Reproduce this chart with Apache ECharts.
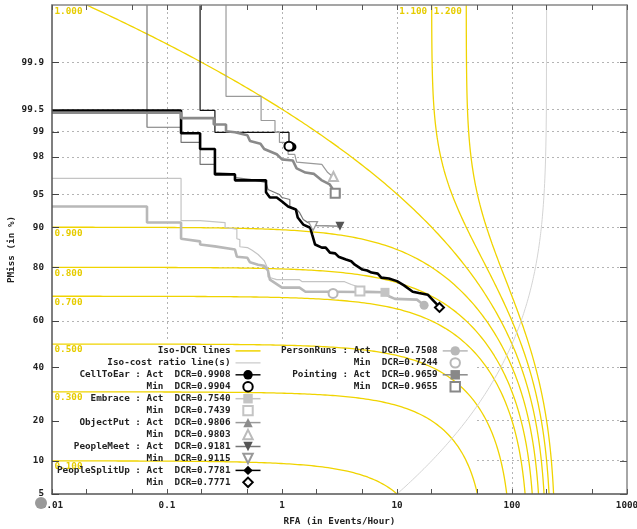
<!DOCTYPE html>
<html><head><meta charset="utf-8">
<script src="https://cdn.jsdelivr.net/npm/echarts@6/dist/echarts.min.js"></script>
<style>html,body{margin:0;padding:0;background:#fff}#c{width:637px;height:529px}</style>
</head><body><div id="c"></div>
<script>
// ---------- axis / reference data ----------
const yTickValues = [5, 10, 20, 40, 60, 80, 90, 95, 98, 99, 99.5, 99.9];
const yTickLabels = ['5', '10', '20', '40', '60', '80', '90', '95', '98', '99', '99.5', '99.9'];
const xGridValues = [0.1, 1, 10, 100];
const xTickValues = [0.01, 0.02, 0.05, 0.1, 0.2, 0.5, 1, 2, 5, 10, 20, 50, 100, 200, 500, 1000];
const isoDcrLevels = [0.1, 0.3, 0.5, 0.7, 0.8, 0.9, 1.0, 1.1, 1.2];
const isoDcrLabels = ['0.100', '0.300', '0.500', '0.700', '0.800', '0.900', '1.000', '1.100', '1.200'];
const beta = 0.005;           // DCR = PMiss + beta * RFA
const pMissMin = 5, pMissMax = 99.99;
const rfaMin = 0.01, rfaMax = 1000;

// ---------- DET curves: [RFA, PMiss %] ----------
const cellToEarCurve = [[0.194,99.99],[0.194,99.48],[0.261,99.48],[0.261,98.99],[1.15,98.99],[1.15,98.5]];
const cellToEarAct = [1.22, 98.47];
const cellToEarMin = [1.15, 98.5];

const embraceCurve = [[0.01,96.54],[0.1325,96.54],[0.1325,91.2],[0.194,91.2],[0.194,90.87],[0.32,90.87],[0.32,89.94],[0.405,89.6],[0.405,87.6],[0.43,87.4],[0.43,85.7],[0.5,85.5],[0.55,84.8],[0.62,83.7],[0.7,82.0],[0.74,80.2],[0.755,78.0],[0.755,76.9],[0.9,76.0],[1.42,76.0],[1.5,75.3],[3.5,75.3],[4.0,74.3],[4.6,73.5],[4.76,72.0],[7.5,71.7]];
const embraceAct = [7.86, 71.47];
const embraceMin = [4.76, 72.0];

const objectPutCurve = [[0.326,99.99],[0.326,99.67],[0.658,99.67],[0.658,99.29],[0.869,99.29],[0.869,98.99],[0.95,98.99],[0.95,98.65],[1.05,98.65],[1.05,98.4],[1.13,98.4],[1.13,98.13],[1.29,98.13],[1.34,97.7],[2.22,97.56],[2.5,97.0],[2.75,96.7]];
const objectPutAct = [2.83, 96.65];
const objectPutMin = [2.8, 96.7];

const peopleMeetCurve = [[0.067,99.99],[0.067,99.13],[0.1325,99.13],[0.1325,98.65],[0.194,98.65],[0.194,97.56],[0.261,97.56],[0.261,97.0],[0.39,96.9],[0.39,96.6],[0.527,96.45],[0.726,96.19],[0.755,95.5],[0.95,94.96],[1.0,94.6],[1.17,94.36],[1.17,93.44],[1.34,93.0],[1.42,92.55],[1.53,91.4],[1.67,90.9],[1.86,90.5],[2.0,90.3],[3.0,90.2]];
const peopleMeetAct = [3.19, 90.2];
const peopleMeetMin = [1.86, 90.22];

const peopleSplitUpCurve = [[0.01,99.48],[0.1325,99.48],[0.1325,98.96],[0.194,98.96],[0.194,98.38],[0.261,98.38],[0.261,96.86],[0.39,96.86],[0.39,96.37],[0.726,96.37],[0.726,95.2],[0.785,94.6],[0.9,94.6],[1.0,94.1],[1.13,93.44],[1.32,93.0],[1.37,91.75],[1.53,90.5],[1.76,89.9],[1.83,88.5],[1.94,86.25],[2.22,85.5],[2.4,85.5],[2.61,84.2],[2.9,84.0],[3.1,83.1],[3.6,82.3],[4.0,81.8],[4.3,80.8],[5.0,79.3],[5.5,79.0],[6.0,78.35],[6.8,78.0],[7.3,76.7],[8.5,76.4],[10,75.5],[11.5,74.0],[13.7,71.7],[15.5,71.2],[18.5,70.6],[21,68.0]];
const peopleSplitUpAct = [23.7, 65.5];
const peopleSplitUpMin = [23.4, 65.6];

const personRunsCurve = [[0.01,93.44],[0.067,93.44],[0.067,90.87],[0.1325,90.87],[0.1325,87.6],[0.194,87.0],[0.194,86.25],[0.261,85.8],[0.261,85.5],[0.39,85.0],[0.405,83.1],[0.5,82.8],[0.527,81.5],[0.62,80.8],[0.7,80.5],[0.755,79.0],[0.785,76.0],[1.0,73.2],[1.42,73.2],[1.6,71.7],[2.78,71.7],[7.5,71.5],[8.5,70.0],[9.6,69.0],[14.9,68.7]];
const personRunsAct = [17.2, 66.5];
const personRunsMin = [2.78, 71.05];

const pointingCurve = [[0.01,99.44],[0.1325,99.44],[0.1325,99.34],[0.255,99.34],[0.255,99.2],[0.326,99.2],[0.326,99.02],[0.39,98.99],[0.5,98.9],[0.527,98.7],[0.65,98.6],[0.7,98.38],[0.9,98.13],[1.0,97.86],[1.24,97.8],[1.34,97.3],[1.6,97.0],[1.9,96.9],[2.2,96.4],[2.6,96.0],[2.85,95.3]];
const pointingAct = [2.95, 95.12];
const pointingMin = [2.9, 95.1];

const eventNames = ['CellToEar','Embrace','ObjectPut','PeopleMeet','PeopleSplitUp','PersonRuns','Pointing'];
const actDcr = [0.9908, 0.7540, 0.9806, 0.9181, 0.7781, 0.7508, 0.9659];
const minDcr = [0.9904, 0.7439, 0.9803, 0.9115, 0.7771, 0.7244, 0.9655];

// ---------- helpers ----------
function probit(p){
  const a=[-3.969683028665376e+01,2.209460984245205e+02,-2.759285104469687e+02,1.383577518672690e+02,-3.066479806614716e+01,2.506628277459239e+00];
  const b=[-5.447609879822406e+01,1.615858368580409e+02,-1.556989798598866e+02,6.680131188771972e+01,-1.328068155288572e+01];
  const c=[-7.784894002430293e-03,-3.223964580411365e-01,-2.400758277161838e+00,-2.549732539343734e+00,4.374664141464968e+00,2.938163982698783e+00];
  const d=[7.784695709041462e-03,3.224671290700398e-01,2.445134137142996e+00,3.754408661907416e+00];
  const pl=0.02425, ph=1-pl; let q,r;
  if(p<pl){q=Math.sqrt(-2*Math.log(p));return (((((c[0]*q+c[1])*q+c[2])*q+c[3])*q+c[4])*q+c[5])/((((d[0]*q+d[1])*q+d[2])*q+d[3])*q+1);}
  if(p>ph){q=Math.sqrt(-2*Math.log(1-p));return -(((((c[0]*q+c[1])*q+c[2])*q+c[3])*q+c[4])*q+c[5])/((((d[0]*q+d[1])*q+d[2])*q+d[3])*q+1);}
  q=p-0.5;r=q*q;return (((((a[0]*r+a[1])*r+a[2])*r+a[3])*r+a[4])*r+a[5])*q/(((((b[0]*r+b[1])*r+b[2])*r+b[3])*r+b[4])*r+1);
}
const zOf = pct => probit(pct / 100);
const zMin = zOf(pMissMin), zMax = zOf(pMissMax);
const yTickZ = yTickValues.map(zOf);

const FONT = "'DejaVu Sans Mono', monospace";
const txt = {fontFamily: FONT, fontWeight: 'bold', fontSize: 9.3, color: '#222'};
const YEL = '#f0d400';

function isoCurve(level){
  const rStart = Math.max(rfaMin, (level - pMissMax/100) / beta);
  const rEnd = (level - pMissMin/100) / beta;
  const n = 1500, pts = [];
  for (let i = 0; i <= n; i++){
    const r = rStart * Math.pow(rEnd / rStart, i / n);
    const p = Math.min(level - beta * r, pMissMax/100);
    if (p >= pMissMin/100 - 1e-9) pts.push([r, probit(Math.max(p, pMissMin/100))]);
  }
  return pts;
}
function isoCostCurve(){
  const rStart = (pMissMin/100) / beta, rEnd = (pMissMax/100) / beta;
  const n = 600, pts = [];
  for (let i = 0; i <= n; i++){
    const r = rStart * Math.pow(rEnd / rStart, i / n);
    pts.push([r, probit(beta * r)]);
  }
  return pts;
}

// ---------- styles ----------
const DOWN = 'path://M0,0L10,0L5,9Z';
const evStyle = [
  {curve: cellToEarCurve, act: cellToEarAct, min: cellToEarMin, color:'#111', width:1.2, mark:'#000', sym:'circle', minStyle:{symbol:'emptyCircle', color:'#000'}},
  {curve: embraceCurve, act: embraceAct, min: embraceMin, color:'#c4c4c4', width:1.2, mark:'#c4c4c4', sym:'rect', minStyle:{symbol:'emptyRect', color:'#c4c4c4'}},
  {curve: objectPutCurve, act: objectPutAct, min: objectPutMin, color:'#9a9a9a', width:1.2, mark:'#8c8c8c', sym:'triangle', minStyle:{symbol:'emptyTriangle', color:'#bbb'}},
  {curve: peopleMeetCurve, act: peopleMeetAct, min: peopleMeetMin, color:'#777', width:1.2, mark:'#555', sym:DOWN, minStyle:{symbol:DOWN, color:'#fff', border:'#999'}},
  {curve: peopleSplitUpCurve, act: peopleSplitUpAct, min: peopleSplitUpMin, color:'#000', width:2.6, mark:'#000', sym:'diamond', minStyle:{symbol:'emptyDiamond', color:'#000'}},
  {curve: personRunsCurve, act: personRunsAct, min: personRunsMin, color:'#b8b8b8', width:2.6, mark:'#b8b8b8', sym:'circle', minStyle:{symbol:'emptyCircle', color:'#b8b8b8'}},
  {curve: pointingCurve, act: pointingAct, min: pointingMin, color:'#8a8a8a', width:2.6, mark:'#888', sym:'rect', minStyle:{symbol:'emptyRect', color:'#888'}}
];

const series = [];
const hideSym = {itemStyle:{opacity:0}};
const hideLine = {lineStyle:{opacity:0, width:0}};
const leftLegend = [Object.assign({name:'Iso-DCR lines'}, hideSym), Object.assign({name:'Iso-cost ratio line(s)'}, hideSym)];
const rightLegend = [];

// grid lines (dotted)
series.push({
  type:'line', name:'__grid', data:[], z:1, silent:true, animation:false,
  markLine:{z:1, silent:true, animation:false, symbol:['none','none'], label:{show:false},
    lineStyle:{color:'#b4b4b4', type:[2,3], width:1},
    data: yTickZ.slice(1).map(z => ({yAxis:z})).concat(xGridValues.map(x => ({xAxis:x})))}
});

// iso-DCR lines
isoDcrLevels.forEach((lv, i) => {
  let coord, lab;
  if (lv < 1) { coord = [rfaMin, probit(lv - beta*rfaMin)]; lab = {position:'right', distance:2, offset:[0,6]}; }
  else if (lv === 1) { coord = [rfaMin, zMax]; lab = {position:'right', distance:2, offset:[0,7]}; }
  else { coord = [(lv - pMissMax/100)/beta, zMax]; lab = {position:'left', distance:4, offset:[0,7]}; }
  series.push({
    type:'line', name:'Iso-DCR lines', data: isoCurve(lv), symbol:'none', z:3, silent:true, animation:false,
    lineStyle:{color:YEL, width:1.3}, itemStyle:{color:YEL},
    markPoint:{z:3, silent:true, animation:false, symbol:'circle', symbolSize:1, itemStyle:{color:'rgba(0,0,0,0)'},
      data:[{coord: coord, label:Object.assign({show:true, formatter: isoDcrLabels[i], fontFamily:FONT, fontWeight:'bold', fontSize:9.3, color:'#e6cc00'}, lab)}]}
  });
});
series.push({
  type:'line', name:'Iso-cost ratio line(s)', data: isoCostCurve(), symbol:'none', z:3, silent:true, animation:false,
  lineStyle:{color:'#d4d4d4', width:1}, itemStyle:{color:'#d4d4d4'}
});

// events
eventNames.forEach((nm, i) => {
  const s = evStyle[i];
  const actName = nm + ' : Act  DCR=' + actDcr[i].toFixed(4);
  const minName = 'Min  DCR=' + minDcr[i].toFixed(4);
  const data = s.curve.map(p => ({value:[p[0], zOf(p[1])], symbol:'none'}));
  data.push({value:[s.act[0], zOf(s.act[1])]});
  series.push({
    type:'line', name: actName, data: data, z:4, silent:true, animation:false,
    symbol: s.sym, symbolSize: 9, showSymbol:true, showAllSymbol:true,
    lineStyle:{color:s.color, width:s.width}, itemStyle:{color:s.mark}
  });
  const ms = s.minStyle;
  series.push({
    type:'line', name: minName, data:[[s.min[0], zOf(s.min[1])]], z:5, silent:true, animation:false,
    symbol: ms.symbol, symbolSize: 9, showSymbol:true, showAllSymbol:true,
    lineStyle:{width:0, color: ms.border || ms.color},
    itemStyle: ms.border ? {color: ms.color, borderColor: ms.border, borderWidth: 1.3} : {color: ms.color, borderWidth: 1.6}
  });
  const tgt = (nm === 'PersonRuns' || nm === 'Pointing') ? rightLegend : leftLegend;
  tgt.push({name: actName}, Object.assign({name: minName}, hideLine));
});

const legendBase = {
  orient:'vertical', align:'right', itemGap:0.15, itemWidth:25, itemHeight:11.8,
  selectedMode:false, z:6, lineStyle:{width:1.5},
  textStyle:Object.assign({}, txt, {lineHeight:11.8}), padding:0
};

const option = {
  animation:false,
  backgroundColor:'#fff',
  grid:{left:52, right:10, top:5, bottom:35, outerBoundsMode:'none', containLabel:false},
  xAxis:[
    {type:'log', logBase:10, min:rfaMin, max:rfaMax, position:'bottom', z:5,
     axisLine:{onZero:false, lineStyle:{color:'#555', width:1.5}},
     axisTick:{inside:true, length:5, customValues:xTickValues, lineStyle:{color:'#555'}},
     axisLabel:Object.assign({}, txt, {margin:7, formatter: v => String(+(+v).toPrecision(6))}),
     splitLine:{show:false}, minorTick:{show:false},
     name:'RFA (in Events/Hour)', nameLocation:'middle', nameGap:23, nameMoveOverlap:false, nameTextStyle:txt},
    {type:'log', logBase:10, min:rfaMin, max:rfaMax, position:'top', z:5,
     axisLine:{onZero:false, lineStyle:{color:'#888', width:1.5}},
     axisTick:{inside:true, length:5, customValues:xTickValues, lineStyle:{color:'#555'}},
     axisLabel:{show:false}, splitLine:{show:false}}
  ],
  yAxis:[
    {type:'value', min:zMin, max:zMax, position:'left', z:5,
     axisLine:{show:true, onZero:false, lineStyle:{color:'#555', width:1.5}},
     axisTick:{show:true, inside:true, length:7, customValues:yTickZ, lineStyle:{color:'#444'}},
     axisLabel:Object.assign({}, txt, {margin:8, customValues:yTickZ,
       formatter: v => { const k = yTickZ.findIndex(z => Math.abs(z - v) < 1e-6); return k >= 0 ? yTickLabels[k] : ''; }}),
     splitLine:{show:false},
     name:'PMiss (in %)', nameLocation:'middle', nameGap:36, nameMoveOverlap:false, nameRotate:90, nameTextStyle:txt},
    {type:'value', min:zMin, max:zMax, position:'right', z:5,
     axisLine:{show:true, onZero:false, lineStyle:{color:'#888', width:1.5}},
     axisTick:{show:true, inside:true, length:7, customValues:yTickZ, lineStyle:{color:'#555'}},
     axisLabel:{show:false}, splitLine:{show:false}}
  ],
  legend:[
    Object.assign({}, legendBase, {data:leftLegend, left:57, top:345, formatter: n => n.padStart(31, ' ')}),
    Object.assign({}, legendBase, {data:rightLegend, left:281, top:345, formatter: n => n.padStart(28, ' ')})
  ],
  graphic:[
    {type:'rect', z:2, silent:true, shape:{x:53, y:340, width:422, height:153}, style:{fill:'#fff'}},
    {type:'circle', z:7, silent:true, shape:{cx:41, cy:503, r:6}, style:{fill:'#9a9a9a'}}
  ],
  series: series
};

const chart = echarts.init(document.getElementById('c'), null, {renderer:'canvas'});
chart.setOption(option);
</script>
</body></html>
